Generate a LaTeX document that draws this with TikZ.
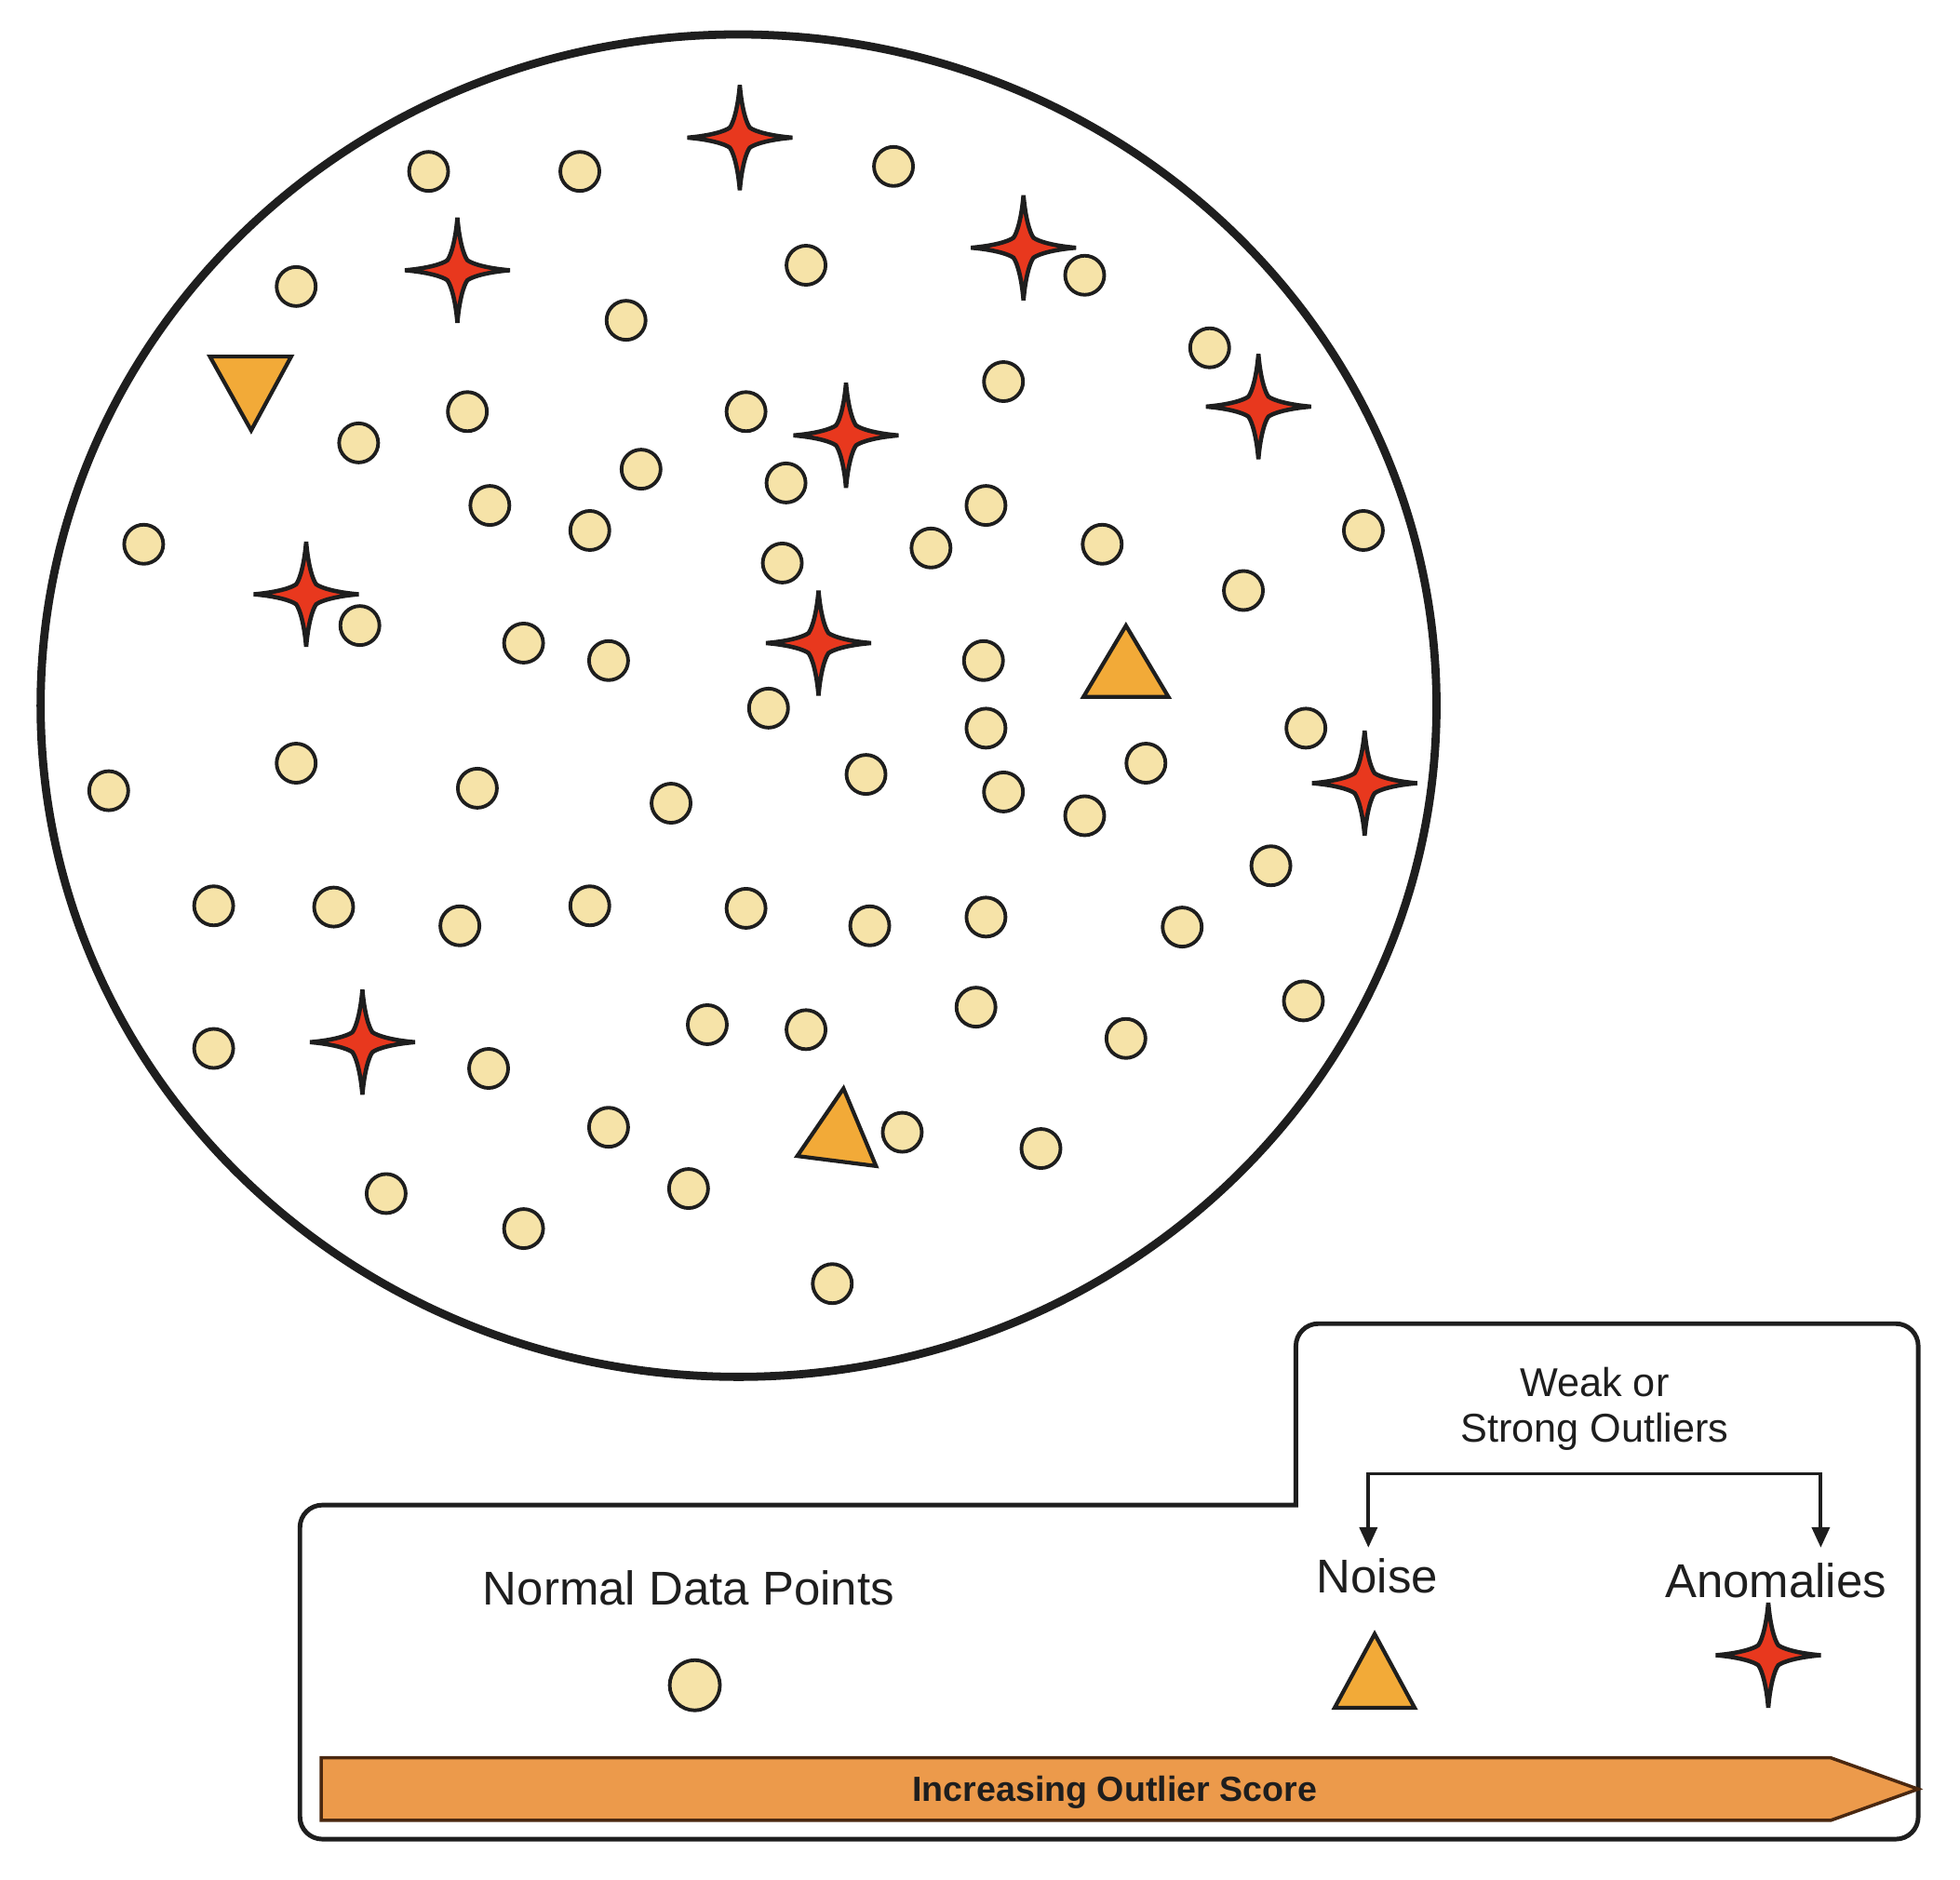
\documentclass[tikz,border=0pt]{standalone}
\usepackage{fontspec}
\setmainfont{Liberation Sans}
\usepackage{tikz}
\usetikzlibrary{arrows.meta, positioning, calc}

\definecolor{ptfill}{HTML}{F6E3A8}
\definecolor{starred}{HTML}{E8381E}
\definecolor{noiseorange}{HTML}{F2AA38}
\definecolor{barorange}{HTML}{EC9A4B}
\definecolor{barline}{HTML}{4A2810}
\definecolor{inkline}{HTML}{1E1E1E}

\tikzset{
  datapt/.style={circle, draw=inkline, fill=ptfill, line width=1.1pt, minimum size=0.42cm, inner sep=0pt},
  noisetri/.style={draw=inkline, fill=noiseorange, line width=1.2pt, line join=miter},
  anomstyle/.style={draw=inkline, fill=starred, line width=1.3pt, line join=miter},
  anomaly/.pic={
    \draw[anomstyle] (0,42) .. controls (1.5,24) and (5,12) .. (8,8)
      .. controls (12,5) and (24,1.5) .. (42,0)
      .. controls (24,-1.5) and (12,-5) .. (8,-8)
      .. controls (5,-12) and (1.5,-24) .. (0,-42)
      .. controls (-1.5,-24) and (-5,-12) .. (-8,-8)
      .. controls (-12,-5) and (-24,-1.5) .. (-42,0)
      .. controls (-24,1.5) and (-12,5) .. (-8,8)
      .. controls (-5,12) and (-1.5,24) .. cycle;
  },
  legendlabel/.style={font=\fontsize{14.5}{17}\selectfont, text=inkline, anchor=base, inner sep=0pt},
  smalllabel/.style={font=\fontsize{12.3}{14.2}\selectfont, text=inkline, anchor=base, inner sep=0pt},
}

\begin{document}
\begin{tikzpicture}[x=0.01343cm, y=-0.01344cm]
  \useasboundingbox (0,0) rectangle (21.06cm,-20.19cm);

  % Data space
  \draw[line width=2.5pt, inkline] (591,564) ellipse [x radius=558.5, y radius=536.5];

  % Normal data points
  \foreach \x/\y [count=\i] in {343/137, 464/137, 715/133, 237/229, 645/212, 868/220,
      501/256, 968/278, 803/305, 374/329, 597/329, 287/354, 513/375, 629/386, 392/404,
      472/424, 789/404, 115/435, 745/438, 882/435, 1091/424, 626/450, 995/472, 288/500,
      419/514, 487/528, 787/528, 615/566, 789/582, 1045/582, 87/632, 237/610, 382/630,
      537/642, 693/619, 803/633, 917/610, 868/652, 1017/692, 171/724, 267/725, 368/740,
      472/724, 597/726, 696/740, 789/733, 946/741, 171/838, 391/854, 566/819, 645/823,
      781/805, 901/830, 1043/800, 487/901, 722/905, 833/918, 309/954, 419/982, 551/950,
      666/1026}
    \node[datapt] (pt\i) at (\x,\y) {};

  % Noise
  \draw[noisetri] (168,285) -- (233,285) -- (201,344) -- cycle;
  \draw[noisetri] (901,500) -- (935,557) -- (867,557) -- cycle;
  \draw[noisetri] (675,870) -- (701,932) -- (638,924) -- cycle;

  % Anomalies
  \foreach \x/\y [count=\i] in {592/110, 366/216, 819/198, 677/348, 1007/325,
      245/475, 655/514, 1092/626, 290/833}
    \pic (an\i) at (\x,\y) {anomaly};

  % Legend box
  \draw[line width=1.4pt, inkline, rounded corners=0.24cm]
    (600,1203) -- (240,1203) -- (240,1470) -- (1535,1470) -- (1535,1058)
    -- (1037,1058) [sharp corners] -- (1037,1203) -- cycle;

  % Legend labels
  \node[smalllabel] (weak) at (1276,1116) {Weak or};
  \node[smalllabel] (strong) at (1276,1153) {Strong Outliers};
  \node[legendlabel] (normal) at (551,1283) {Normal Data Points};
  \node[legendlabel] (noise) at (1102,1273) {Noise};
  \node[legendlabel] (anom) at (1421,1277) {Anomalies};

  % Legend symbols
  \node[datapt, minimum size=0.54cm] (normalpt) at (556,1347) {};
  \draw[noisetri] (1100,1306) -- (1132,1365) -- (1068,1365) -- cycle;
  \pic (anomkey) at (1415,1323) {anomaly};

  % Split arrow
  \coordinate (split) at (1276,1178);
  \coordinate (noisearr) at (1095,1237);
  \coordinate (anomarr) at (1457,1237);
  \draw[line width=1.1pt, inkline, {Triangle[length=0.22cm,width=0.19cm]}-{Triangle[length=0.22cm,width=0.19cm]}]
    (noisearr) |- (split) -| (anomarr);

  % Outlier score bar
  \draw[fill=barorange, draw=barline, line width=1pt]
    (257,1405) -- (1465,1405) -- (1535,1430) -- (1465,1455) -- (257,1455) -- cycle;
  \node[font=\fontsize{10.7}{13}\selectfont\bfseries, text=inkline, anchor=base, inner sep=0pt]
    (score) at (892,1440) {Increasing Outlier Score};
\end{tikzpicture}
\end{document}
